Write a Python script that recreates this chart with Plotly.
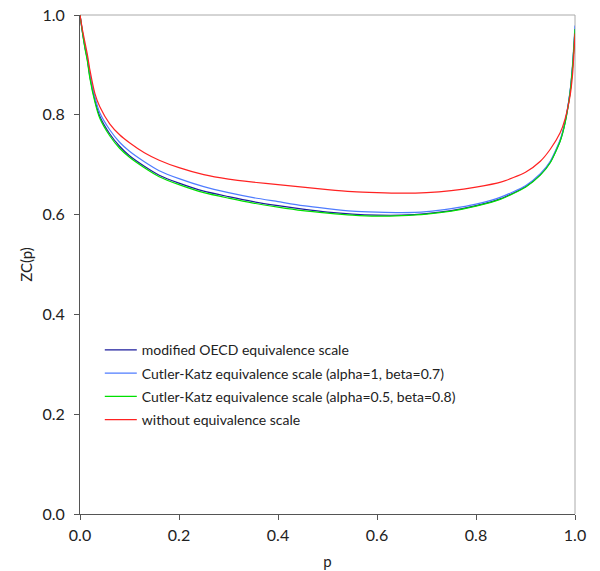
import plotly.graph_objects as go

p = [0, 0.005, 0.01, 0.015, 0.02, 0.03, 0.04, 0.06, 0.08, 0.1, 0.13, 0.16, 0.2,
     0.25, 0.3, 0.35, 0.4, 0.45, 0.5, 0.55, 0.6, 0.65, 0.7, 0.75, 0.8, 0.85,
     0.9, 0.93, 0.95, 0.97, 0.98, 0.99, 0.995, 1.0]

zc_oecd = [1.0, 0.965, 0.935, 0.91, 0.876, 0.83, 0.797, 0.762, 0.737, 0.718, 0.697,
           0.679, 0.663, 0.647, 0.636, 0.626, 0.618, 0.611, 0.605, 0.601, 0.599,
           0.599, 0.602, 0.608, 0.618, 0.632, 0.656, 0.68, 0.705, 0.748, 0.785,
           0.845, 0.895, 0.97]

zc_ck1 = [1.0, 0.967, 0.938, 0.914, 0.881, 0.836, 0.804, 0.77, 0.745, 0.727, 0.706,
          0.688, 0.672, 0.656, 0.644, 0.634, 0.626, 0.618, 0.612, 0.607, 0.605,
          0.604, 0.606, 0.612, 0.621, 0.635, 0.658, 0.682, 0.707, 0.75, 0.787,
          0.847, 0.9, 0.979]

zc_ck2 = [1.0, 0.964, 0.933, 0.907, 0.873, 0.826, 0.793, 0.758, 0.733, 0.715, 0.694,
          0.676, 0.66, 0.644, 0.633, 0.623, 0.615, 0.608, 0.603, 0.599, 0.597,
          0.598, 0.601, 0.607, 0.617, 0.631, 0.655, 0.679, 0.704, 0.747, 0.784,
          0.844, 0.896, 0.972]

zc_none = [1.0, 0.97, 0.945, 0.92, 0.89, 0.843, 0.816, 0.782, 0.76, 0.744, 0.724,
           0.709, 0.694, 0.68, 0.671, 0.665, 0.66, 0.655, 0.65, 0.646, 0.644,
           0.643, 0.644, 0.648, 0.655, 0.665, 0.685, 0.707, 0.731, 0.764, 0.792,
           0.838, 0.88, 0.963]

series_names = [
    "modified OECD equivalence scale",
    "Cutler-Katz equivalence scale (alpha=1, beta=0.7)",
    "Cutler-Katz equivalence scale (alpha=0.5, beta=0.8)",
    "without equivalence scale",
]
series_values = [zc_oecd, zc_ck1, zc_ck2, zc_none]
colors = ["#1c1c9c", "#4f7cff", "#00e000", "#ff2222"]

tick_vals = [0, 0.2, 0.4, 0.6, 0.8, 1.0]
tick_text = ["0.0", "0.2", "0.4", "0.6", "0.8", "1.0"]

FONT = "Lato"

fig = go.Figure()
for i, (name, vals, col) in enumerate(zip(series_names, series_values, colors)):
    fig.add_trace(go.Scatter(
        x=p, y=vals, mode="lines", name=name,
        line=dict(color=col, width=1.2, shape="spline", smoothing=0.6),
        legendgroup=f"g{i}",
    ))

axis_common = dict(
    range=[0, 1], tickvals=tick_vals, ticktext=tick_text,
    ticks="outside", ticklen=5, tickcolor="#555555", tickwidth=1,
    showline=True, linecolor="#555555", linewidth=1,
    showgrid=False, zeroline=False, automargin=False,
    tickfont=dict(family=FONT, size=16, color="#222222"),
    title_font=dict(family=FONT, size=15, color="#222222"),
)

fig.update_xaxes(title_text="p", title_standoff=13, ticklabelstandoff=2, **axis_common)
fig.update_yaxes(title_text="ZC(p)", title_standoff=6, ticklabelstandoff=6, **axis_common)

fig.add_shape(type="line", xref="paper", yref="paper", x0=0, x1=1, y0=1, y1=1,
              line=dict(color="#aaaaaa", width=1), layer="below")
fig.add_shape(type="line", xref="paper", yref="paper", x0=1, x1=1, y0=0, y1=1,
              line=dict(color="#aaaaaa", width=1), layer="below")

fig.update_layout(
    width=600, height=571,
    margin=dict(l=80, r=25, t=15, b=57),
    paper_bgcolor="white", plot_bgcolor="white",
    showlegend=True,
    legend=dict(
        x=0.040, y=0.36, xanchor="left", yanchor="top",
        bgcolor="rgba(0,0,0,0)",
        font=dict(family=FONT, size=14, color="#222222"),
        traceorder="grouped", tracegroupgap=2,
        itemwidth=32,
    ),
)

fig.write_html("out.html")
